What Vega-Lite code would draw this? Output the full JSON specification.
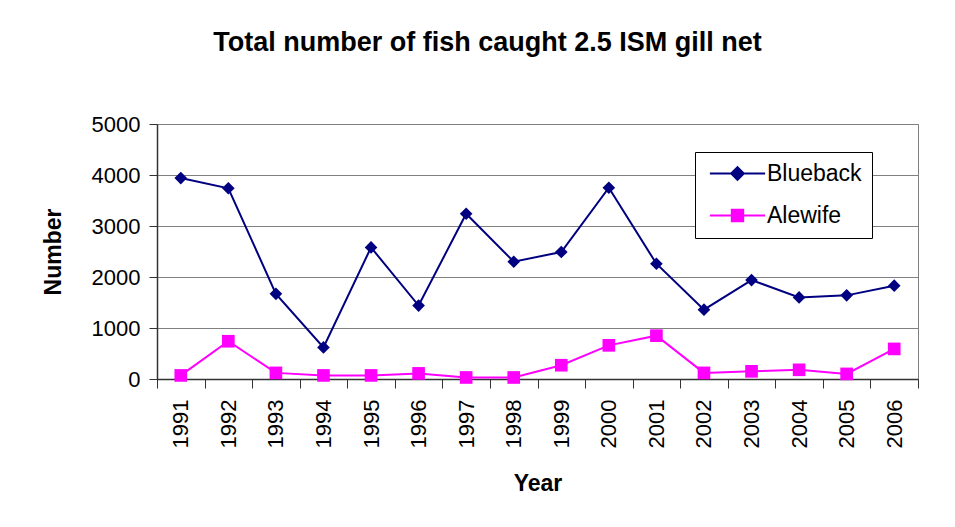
{
  "$schema": "https://vega.github.io/schema/vega-lite/v6.json",
  "autosize": "none",
  "width": 761,
  "height": 255,
  "padding": {"left": 157, "top": 124, "right": 37, "bottom": 148},
  "background": "white",
  "title": {
    "text": "Total number of fish caught 2.5 ISM gill net",
    "font": "Liberation Sans",
    "fontSize": 27,
    "fontWeight": "bold",
    "color": "black",
    "anchor": "middle",
    "dx": -50,
    "baseline": "alphabetic",
    "offset": 35
  },
  "data": {
    "values": [
      {"Year": "1991", "Species": "Blueback", "Number": 3940},
      {"Year": "1992", "Species": "Blueback", "Number": 3740},
      {"Year": "1993", "Species": "Blueback", "Number": 1670},
      {"Year": "1994", "Species": "Blueback", "Number": 620},
      {"Year": "1995", "Species": "Blueback", "Number": 2580},
      {"Year": "1996", "Species": "Blueback", "Number": 1440},
      {"Year": "1997", "Species": "Blueback", "Number": 3240},
      {"Year": "1998", "Species": "Blueback", "Number": 2300},
      {"Year": "1999", "Species": "Blueback", "Number": 2490},
      {"Year": "2000", "Species": "Blueback", "Number": 3750},
      {"Year": "2001", "Species": "Blueback", "Number": 2260},
      {"Year": "2002", "Species": "Blueback", "Number": 1360},
      {"Year": "2003", "Species": "Blueback", "Number": 1940},
      {"Year": "2004", "Species": "Blueback", "Number": 1600},
      {"Year": "2005", "Species": "Blueback", "Number": 1640},
      {"Year": "2006", "Species": "Blueback", "Number": 1830},
      {"Year": "1991", "Species": "Alewife", "Number": 70},
      {"Year": "1992", "Species": "Alewife", "Number": 740},
      {"Year": "1993", "Species": "Alewife", "Number": 120},
      {"Year": "1994", "Species": "Alewife", "Number": 70},
      {"Year": "1995", "Species": "Alewife", "Number": 70},
      {"Year": "1996", "Species": "Alewife", "Number": 110},
      {"Year": "1997", "Species": "Alewife", "Number": 30},
      {"Year": "1998", "Species": "Alewife", "Number": 30},
      {"Year": "1999", "Species": "Alewife", "Number": 270},
      {"Year": "2000", "Species": "Alewife", "Number": 660},
      {"Year": "2001", "Species": "Alewife", "Number": 850},
      {"Year": "2002", "Species": "Alewife", "Number": 120},
      {"Year": "2003", "Species": "Alewife", "Number": 150},
      {"Year": "2004", "Species": "Alewife", "Number": 180},
      {"Year": "2005", "Species": "Alewife", "Number": 100},
      {"Year": "2006", "Species": "Alewife", "Number": 590}
    ]
  },
  "encoding": {
    "x": {
      "field": "Year",
      "type": "ordinal",
      "bandPosition": 0.5,
      "scale": {"type": "band", "paddingInner": 0, "paddingOuter": 0},
      "axis": {
        "title": "Year",
        "labelAngle": -90,
        "tickBand": "extent",
        "grid": false,
        "tickSize": 9,
        "labelPadding": 11,
        "titlePadding": 25
      }
    },
    "y": {
      "field": "Number",
      "type": "quantitative",
      "scale": {"domain": [0, 5000], "nice": false},
      "axis": {
        "title": "Number",
        "format": "d",
        "values": [0, 1000, 2000, 3000, 4000, 5000],
        "tickSize": 8,
        "labelPadding": 9,
        "titlePadding": 26
      }
    },
    "color": {
      "field": "Species",
      "type": "nominal",
      "scale": {"domain": ["Blueback", "Alewife"], "range": ["#000080", "#FF00FF"]},
      "legend": {
        "title": null,
        "orient": "none",
        "legendX": 538,
        "legendY": 28,
        "strokeColor": "black",
        "fillColor": "white",
        "padding": 10,
        "symbolSize": 144,
        "symbolOffset": 21,
        "labelFont": "Liberation Sans",
        "labelFontSize": 23,
        "labelColor": "black",
        "labelOffset": 18,
        "rowPadding": 18,
        "encode": {
          "symbols": {
            "update": {
              "shape": {"signal": "datum.value === 'Blueback' ? 'M-4.6,0H4.6M0,-1.05L1.05,0L0,1.05L-1.05,0Z' : 'M-4.6,0H4.6M-0.95,-0.95H0.95V0.95H-0.95Z'"},
              "fill": {"scale": "color", "field": "value"},
              "stroke": {"scale": "color", "field": "value"},
              "strokeWidth": {"value": 2},
              "opacity": {"value": 1}
            }
          }
        }
      }
    }
  },
  "layer": [
    {"mark": {"type": "line", "strokeWidth": 2}},
    {
      "transform": [{"filter": "datum.Species === 'Blueback'"}],
      "mark": {"type": "point", "filled": true, "size": 160, "opacity": 1, "shape": "diamond"}
    },
    {
      "transform": [{"filter": "datum.Species === 'Alewife'"}],
      "mark": {"type": "point", "filled": true, "size": 160, "opacity": 1, "shape": "square"}
    }
  ],
  "config": {
    "font": "Liberation Sans",
    "view": {"stroke": "#808080", "strokeWidth": 1},
    "axis": {
      "labelFont": "Liberation Sans",
      "labelFontSize": 22,
      "labelColor": "black",
      "titleFont": "Liberation Sans",
      "titleFontSize": 23,
      "titleFontWeight": "bold",
      "titleColor": "black",
      "domainColor": "#333333",
      "tickColor": "#333333",
      "domainWidth": 1.5,
      "gridColor": "#808080",
      "gridWidth": 1
    }
  }
}
